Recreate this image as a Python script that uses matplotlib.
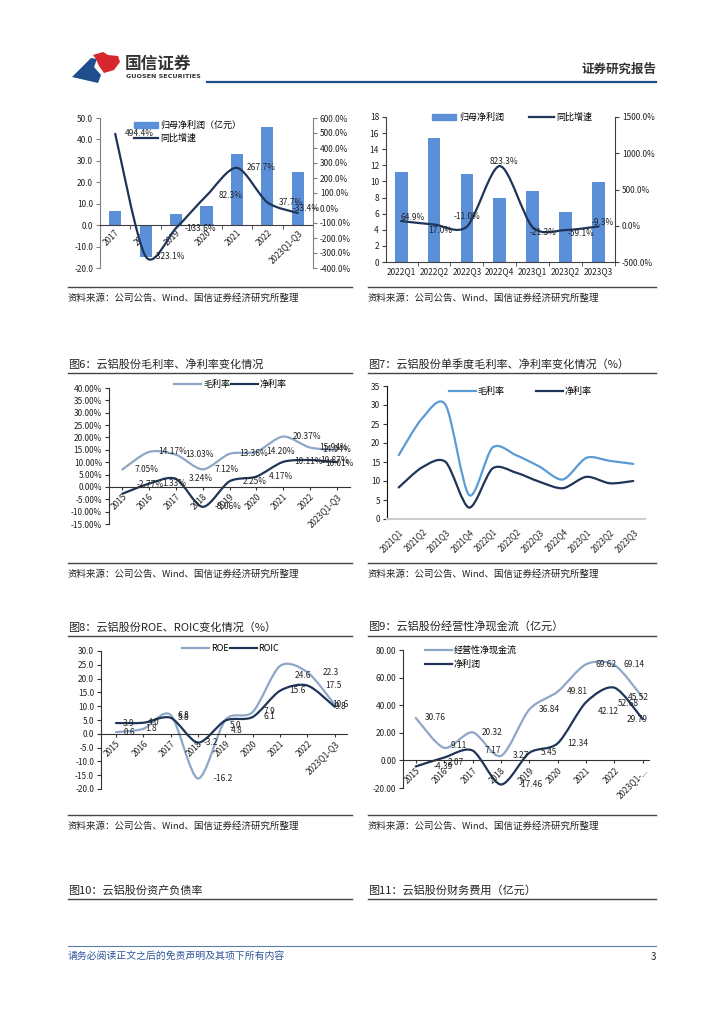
import numpy as np
import matplotlib
matplotlib.use("Agg")
import matplotlib.pyplot as plt
from matplotlib.path import Path
from matplotlib.patches import PathPatch, Polygon, Patch
from matplotlib.lines import Line2D

plt.rcParams['font.family'] = ['Noto Sans CJK SC', 'DejaVu Sans']
plt.rcParams['axes.unicode_minus'] = False

W, H = 724, 1024

# ---------------- data ----------------
years_a = ['2017', '2018', '2019', '2020', '2021', '2022', '2023Q1-Q3']
profit_a = [6.6, -14.7, 5.0, 9.1, 33.0, 45.6, 24.9]
growth_a = [494.4, -323.1, -133.6, 82.3, 267.7, 37.7, -33.4]

quarters_q = ['2022Q1', '2022Q2', '2022Q3', '2022Q4', '2023Q1', '2023Q2', '2023Q3']
profit_q = [11.2, 15.4, 10.9, 8.0, 8.8, 6.2, 9.9]
growth_q = [64.9, 17.0, -11.0, 823.3, -21.3, -59.1, -9.3]

years_m = ['2015', '2016', '2017', '2018', '2019', '2020', '2021', '2022', '2023Q1-Q3']
gross_m = [7.05, 14.17, 13.03, 7.12, 13.36, 14.20, 20.37, 15.94, 14.94]
net_m = [-2.77, 1.33, 3.24, -8.06, 2.25, 4.17, 10.11, 10.87, 10.01]

quarters_s = ['2021Q1', '2021Q2', '2021Q3', '2021Q4', '2022Q1', '2022Q2',
              '2022Q3', '2022Q4', '2023Q1', '2023Q2', '2023Q3']
gross_s = [16.8, 26.5, 30.0, 6.3, 18.8, 16.8, 13.8, 10.4, 16.1, 15.3, 14.5]
net_s = [8.3, 13.6, 15.0, 3.0, 13.3, 12.2, 9.8, 8.1, 11.1, 9.4, 10.0]

years_r = ['2015', '2016', '2017', '2018', '2019', '2020', '2021', '2022', '2023Q1-Q3']
roe = [0.6, 1.8, 6.8, -16.2, 5.0, 7.9, 24.6, 22.3, 10.6]
roic = [3.9, 4.0, 5.8, -3.2, 4.8, 6.1, 15.6, 17.5, 9.8]

years_c = ['2015', '2016', '2017', '2018', '2019', '2020', '2021', '2022', '2023Q1-...']
cashflow = [30.76, 9.11, 20.32, 3.27, 36.84, 49.81, 69.62, 69.14, 45.52]
netprofit = [-4.39, 2.07, 7.17, -17.46, 5.45, 12.34, 42.12, 52.68, 29.79]

BAR = '#5B8FD8'
NAVY = '#1F3557'
GREYBLUE = '#8EA7C7'
SKY = '#5B9BD5'
TXT = '#222222'

fig = plt.figure(figsize=(W / 100, H / 100), dpi=100)

# background layer in pixel coordinates
bg = fig.add_axes([0, 0, 1, 1])
bg.set_xlim(0, W)
bg.set_ylim(H, 0)
bg.axis('off')


def px_axes(x0, y0, x1, y1):
    ax = fig.add_axes([x0 / W, 1 - y1 / H, (x1 - x0) / W, (y1 - y0) / H])
    ax.set_facecolor('none')
    return ax


def smooth_line(ax, x, y, color, lw=1.6):
    # excel style smoothed line: bezier segments through the points
    pts = np.column_stack([x, y]).astype(float)
    n = len(pts)
    verts = [pts[0]]
    codes = [Path.MOVETO]
    for i in range(n - 1):
        p0 = pts[max(i - 1, 0)]
        p1 = pts[i]
        p2 = pts[i + 1]
        p3 = pts[min(i + 2, n - 1)]
        verts += [p1 + (p2 - p0) / 7, p2 - (p3 - p1) / 7, p2]
        codes += [Path.CURVE4] * 3
    ax.add_patch(PathPatch(Path(verts, codes), fill=False, edgecolor=color,
                           lw=lw, capstyle='round', joinstyle='round'))


def add_labels(ax, x, y, texts, dx, dy, moves=None, size=6):
    for i, (xi, yi, t) in enumerate(zip(x, y, texts)):
        ox, oy = dx, dy
        if moves and i in moves:
            ox, oy = moves[i]
        ax.annotate(t, (xi, yi), xytext=(ox, oy), textcoords='offset pixels',
                    ha='center', va='center', fontsize=size, color=TXT)


def style_y(ax, ticks, fmt, color='#808080'):
    ax.set_yticks(ticks)
    ax.set_yticklabels([fmt.format(v) for v in ticks], fontsize=6, color=TXT)
    ax.tick_params(axis='y', length=3, direction='out', color=color, pad=2)


def line_legend(ax, labels, colors, **kw):
    handles = [Line2D([], [], color=c, lw=1.6) for c in colors]
    ax.legend(handles, labels, frameon=False, fontsize=6.5, handlelength=3.0,
              handletextpad=0.2, borderpad=0, borderaxespad=0, **kw)


# ---------------- header ----------------
bg.add_patch(Polygon([(72, 77), (91, 58), (97, 59), (94, 67), (101, 75), (98, 83), (85, 80)],
                     closed=True, color='#1F4E8C', lw=0))
bg.add_patch(Polygon([(93, 55), (103, 52), (108, 55), (118, 56), (120, 62), (114, 70),
                      (104, 73), (99, 66), (96, 59)], closed=True, color='#D7272E', lw=0))
bg.text(125, 64, '国信证券', fontsize=12, fontweight='bold', color='#333333', va='center')
bg.text(126, 77, 'GUOSEN SECURITIES', fontsize=4.6, fontweight='bold', color='#333333',
        va='center', family=['DejaVu Sans'])
bg.plot([207, 656], [82, 82], color='#1F4E8C', lw=1.6)
bg.text(656, 69, '证券研究报告', fontsize=9, fontweight='bold', color='#333333',
        ha='right', va='center')

# ---------------- rules, titles, sources ----------------
source = '资料来源：公司公告、Wind、国信证券经济研究所整理'
cols = [(68, 352), (368, 656)]
for y in [287, 563, 815]:
    for x0, x1 in cols:
        bg.plot([x0, x1], [y, y], color='#444444', lw=1.0)
        bg.text(x0, y + 11, source, fontsize=6.8, color=TXT, va='center')

titles = [(364, '图6：云铝股份毛利率、净利率变化情况', '图7：云铝股份单季度毛利率、净利率变化情况（%）'),
          (627, '图8：云铝股份ROE、ROIC变化情况（%）', '图9：云铝股份经营性净现金流（亿元）'),
          (890, '图10：云铝股份资产负债率', '图11：云铝股份财务费用（亿元）')]
for y, left, right in titles:
    bg.text(68, y, left, fontsize=8, color=TXT, va='center')
    bg.text(368, y, right, fontsize=8, color=TXT, va='center')
    for x0, x1 in cols:
        bg.plot([x0, x1], [y + 9, y + 9], color='#444444', lw=1.0)

# footer
bg.plot([68, 656], [946, 946], color='#5D7FA8', lw=0.8)
bg.text(68, 956, '请务必阅读正文之后的免责声明及其项下所有内容', fontsize=7.1, color='#2E5597',
        style='italic', va='center')
bg.text(656, 957, '3', fontsize=7, color=TXT, ha='right', va='center')

# ---------------- chart 1: annual profit + growth ----------------
ax = px_axes(100, 118, 313, 268)
xa = np.arange(len(years_a))
ax.bar(xa, profit_a, width=0.4, color=BAR, zorder=2)
ax.set_xlim(-0.5, 6.5)
ax.set_ylim(-20, 50)
style_y(ax, np.arange(-20, 51, 10), '{:.1f}')
for s in ['top', 'right']:
    ax.spines[s].set_visible(False)
ax.spines['left'].set_color('#808080')
ax.spines['bottom'].set_position(('data', 0))
ax.spines['bottom'].set_color('#404040')
ax.set_xticks(xa)
ax.set_xticklabels(years_a, rotation=45, ha='right', rotation_mode='anchor', fontsize=6, color=TXT)
ax.set_xticks(xa[:-1] + 0.5, minor=True)
ax.tick_params(axis='x', which='major', length=0, pad=2)
ax.tick_params(axis='x', which='minor', length=3, color='#404040')

ax2 = ax.twinx()
ax2.set_ylim(-400, 600)
ax2.set_facecolor('none')
style_y(ax2, np.arange(-400, 601, 100), '{:.1f}%')
for s in ['top', 'left', 'bottom']:
    ax2.spines[s].set_visible(False)
ax2.spines['right'].set_color('#808080')
smooth_line(ax2, xa, growth_a, NAVY, 1.6)
add_labels(ax2, xa, growth_a, [f'{v:.1f}%' for v in growth_a], 24, 0, moves={6: (8, 5)})
ax2.legend([Patch(color=BAR), Line2D([], [], color=NAVY, lw=1.6)],
           ['归母净利润（亿元）', '同比增速'], loc='upper left', bbox_to_anchor=(0.16, 0.98),
           frameon=False, fontsize=6.5, handlelength=2.6, handletextpad=0.3,
           labelspacing=0.35, borderpad=0, borderaxespad=0)

# ---------------- chart 2: quarterly profit + growth ----------------
ax = px_axes(386, 117, 615, 262)
xq = np.arange(len(quarters_q))
ax.bar(xq, profit_q, width=0.39, color=BAR, zorder=2)
ax.set_xlim(-0.46, 6.22)
ax.set_ylim(0, 18)
style_y(ax, np.arange(0, 19, 2), '{:.0f}', color='#404040')
ax.spines['top'].set_visible(False)
ax.spines['right'].set_visible(False)
ax.spines['left'].set_color('#404040')
ax.spines['bottom'].set_color('#404040')
ax.set_xticks(xq)
ax.set_xticklabels(quarters_q, fontsize=6, color=TXT)
ax.set_xticks(xq + 0.5, minor=True)
ax.tick_params(axis='x', which='major', length=0, pad=4)
ax.tick_params(axis='x', which='minor', length=3, color='#404040')

ax2 = ax.twinx()
ax2.set_ylim(-500, 1500)
ax2.set_facecolor('none')
style_y(ax2, np.arange(-500, 1501, 500), '{:.1f}%', color='#404040')
for s in ['top', 'left', 'bottom']:
    ax2.spines[s].set_visible(False)
ax2.spines['right'].set_color('#404040')
smooth_line(ax2, xq, growth_q, NAVY, 1.6)
add_labels(ax2, xq, growth_q, [f'{v:.1f}%' for v in growth_q], 8, 0,
           moves={0: (11, 4), 1: (6, -6), 2: (0, 10), 3: (4, 5), 4: (10, -5), 5: (15, -3), 6: (4, 4)})
ax2.legend([Patch(color=BAR), Line2D([], [], color=NAVY, lw=1.6)],
           ['归母净利润', '同比增速'], loc='upper left', bbox_to_anchor=(0.2, 1.03), ncol=2,
           frameon=False, fontsize=6.5, handlelength=2.7, handletextpad=0.3,
           columnspacing=2.8, borderpad=0, borderaxespad=0)


def year_axis(ax, labels, pad=2):
    x = np.arange(len(labels))
    for s in ['top', 'right']:
        ax.spines[s].set_visible(False)
    ax.spines['left'].set_color('#333333')
    ax.spines['bottom'].set_position(('data', 0))
    ax.spines['bottom'].set_color('#333333')
    ax.set_xticks(x)
    ax.set_xticklabels(labels, rotation=45, ha='right', rotation_mode='anchor', fontsize=6, color=TXT)
    ax.tick_params(axis='x', length=2, pad=pad, color='#333333')
    return x


# ---------------- fig 6: gross / net margin ----------------
ax = px_axes(109, 388, 350, 524)
ax.set_xlim(-0.5, 8.5)
ax.set_ylim(-15, 40)
style_y(ax, np.arange(-15, 41, 5), '{:.2f}%', color='#333333')
xm = year_axis(ax, years_m)
smooth_line(ax, xm, gross_m, GREYBLUE, 1.6)
smooth_line(ax, xm, net_m, NAVY, 1.6)
add_labels(ax, xm, gross_m, [f'{v:.2f}%' for v in gross_m], 24, 0, moves={8: (0, 0)})
add_labels(ax, xm, net_m, [f'{v:.2f}%' for v in net_m], 25, 0, moves={0: (28, 9), 8: (3, -1)})
line_legend(ax, ['毛利率', '净利率'], [GREYBLUE, NAVY], loc='upper left',
            bbox_to_anchor=(0.27, 1.06), ncol=2, columnspacing=0.1)

# ---------------- fig 7: quarterly margins ----------------
ax = px_axes(387, 386, 645, 519)
xs = np.arange(len(quarters_s))
ax.set_xlim(-0.5, 10.5)
ax.set_ylim(0, 35)
style_y(ax, np.arange(0, 36, 5), '{:.0f}', color='#333333')
for s in ['top', 'right']:
    ax.spines[s].set_visible(False)
ax.spines['left'].set_color('#111111')
ax.spines['bottom'].set_color('#CCCCCC')
ax.spines['bottom'].set_linewidth(1.5)
ax.set_xticks(xs)
ax.set_xticklabels(quarters_s, rotation=45, ha='right', rotation_mode='anchor', fontsize=5.8, color=TXT)
ax.tick_params(axis='x', length=0, pad=6)
smooth_line(ax, xs, gross_s, SKY, 1.6)
smooth_line(ax, xs, net_s, NAVY, 1.6)
line_legend(ax, ['毛利率', '净利率'], [SKY, NAVY], loc='upper left',
            bbox_to_anchor=(0.24, 0.99), ncol=2, columnspacing=3.4)

# ---------------- fig 8: ROE / ROIC ----------------
ax = px_axes(101, 651, 347, 789)
ax.set_xlim(-0.55, 8.45)
ax.set_ylim(-20, 30)
style_y(ax, np.arange(-20, 31, 5), '{:.1f}', color='#333333')
xr = year_axis(ax, years_r)
smooth_line(ax, xr, roe, GREYBLUE, 1.6)
smooth_line(ax, xr, roic, NAVY, 1.6)
add_labels(ax, xr, roe, [f'{v:.1f}' for v in roe], 13, 0,
           moves={1: (8, 0), 3: (25, 0), 4: (10, -6), 5: (17, 0), 6: (23, -10), 7: (23, 0), 8: (6, 0)})
add_labels(ax, xr, roic, [f'{v:.1f}' for v in roic], 13, 0,
           moves={1: (10, 0), 4: (11, -10), 5: (17, 0), 6: (17, 0), 7: (26, 0), 8: (6, 0)})
line_legend(ax, ['ROE', 'ROIC'], [GREYBLUE, NAVY], loc='upper left',
            bbox_to_anchor=(0.33, 1.05), ncol=2, columnspacing=0.1)

# ---------------- fig 9: operating cash flow ----------------
ax = px_axes(403, 650, 649, 788)
ax.set_xlim(-0.45, 8.22)
ax.set_ylim(-20, 80)
style_y(ax, np.arange(-20, 81, 20), '{:.2f}', color='#333333')
xc = year_axis(ax, years_c)
smooth_line(ax, xc, cashflow, GREYBLUE, 1.6)
smooth_line(ax, xc, netprofit, NAVY, 1.6)
add_labels(ax, xc, cashflow, [f'{v:.2f}' for v in cashflow], 20, 0,
           moves={1: (15, 2), 8: (-4, 0)})
add_labels(ax, xc, netprofit, [f'{v:.2f}' for v in netprofit], 20, 0,
           moves={0: (27, 0), 1: (12, -5), 3: (30, 0), 5: (20, 0), 6: (22, -9), 7: (14, -16), 8: (-6, 0)})
line_legend(ax, ['经营性净现金流', '净利润'], [GREYBLUE, NAVY], loc='upper left',
            bbox_to_anchor=(0.09, 1.03), labelspacing=0.55)

fig.savefig('out.png', dpi=100)
